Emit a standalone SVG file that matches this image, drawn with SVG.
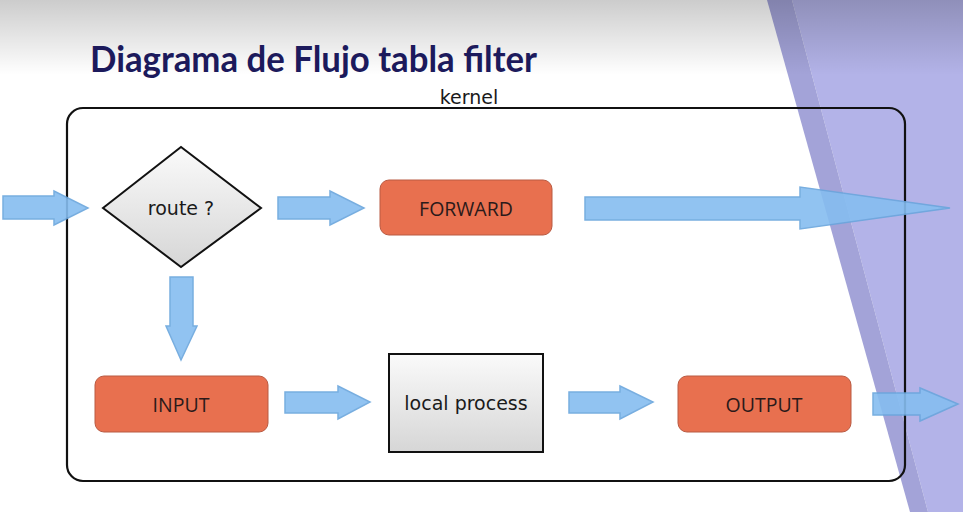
<svg xmlns="http://www.w3.org/2000/svg" width="963" height="512" viewBox="0 0 963 512">
<defs>
<linearGradient id="topShade" x1="0" y1="0" x2="0" y2="1">
<stop offset="0" stop-color="#000" stop-opacity="0.2"/>
<stop offset="1" stop-color="#000" stop-opacity="0"/>
</linearGradient>
<linearGradient id="grayFill" x1="0" y1="0" x2="0" y2="1">
<stop offset="0" stop-color="#fafafa"/>
<stop offset="1" stop-color="#d6d6d6"/>
</linearGradient>
<style>
.arrow{fill:#86bdf0;stroke:#6aa6dd;stroke-width:1.5;opacity:0.9}
.proc{fill:#e8704f;stroke:#b95a42;stroke-width:1}
.lbl{font-family:"DejaVu Sans",sans-serif;font-size:19px;fill:#1a1a1a;text-anchor:middle}
.box{font-family:"Open Sans","Liberation Sans",sans-serif;font-size:19.5px;fill:#2a1a1a;text-anchor:middle}
</style>
</defs>
<rect width="963" height="512" fill="#ffffff"/>
<polygon points="792,0 963,0 963,512 928,512" fill="#b3b3e8"/>
<polygon points="767,0 792,0 928,512 910,512" fill="#a3a3d8"/>
<rect width="963" height="75" fill="url(#topShade)"/>
<text x="90" y="72" font-family="Lato,'Open Sans',sans-serif" font-weight="bold" font-size="37" fill="#1c1a5c" textLength="447" lengthAdjust="spacingAndGlyphs">Diagrama de Flujo tabla filter</text>
<g id="kernel">
<rect x="67" y="108" width="838" height="373" rx="16" fill="none" stroke="#111" stroke-width="2.2"/>
<text x="469" y="104" class="lbl" font-size="16.5">kernel</text>
</g>
<g id="route">
<polygon points="103,208 181,147 261,208 181,267" fill="url(#grayFill)" stroke="#111" stroke-width="2"/>
<text x="181" y="215" class="lbl" font-size="18.5">route ?</text>
</g>
<g id="forward">
<rect x="380" y="180" width="172" height="55" rx="9" class="proc"/>
<text x="466" y="215.5" class="box">FORWARD</text>
</g>
<g id="input">
<rect x="95" y="376" width="173" height="56" rx="9" class="proc"/>
<text x="181" y="411.5" class="box">INPUT</text>
</g>
<g id="local">
<rect x="389" y="354" width="154" height="98" fill="url(#grayFill)" stroke="#111" stroke-width="2"/>
<text x="466" y="410" class="lbl">local process</text>
</g>
<g id="output">
<rect x="678" y="376" width="173" height="56" rx="9" class="proc"/>
<text x="764" y="411.5" class="box">OUTPUT</text>
</g>
<g id="connectors">
<polygon class="arrow" points="3,196 54,196 54,191 88,208 54,225 54,219 3,219"/>
<polygon class="arrow" points="278,197 330,197 330,191 364,208 330,225 330,219 278,219"/>
<polygon class="arrow" points="585,197 800,197 800,187 950,208 800,229 800,220 585,220"/>
<polygon class="arrow" points="170,277 193,277 193,326 197,326 181,360 166,326 170,326"/>
<polygon class="arrow" points="285,392 338,392 338,386 370,402 338,419 338,413 285,413"/>
<polygon class="arrow" points="569,392 620,392 620,386 653,402 620,419 620,413 569,413"/>
<polygon class="arrow" points="873,393 920,393 920,388 958,404 920,421 920,415 873,415"/>
</g>
</svg>
